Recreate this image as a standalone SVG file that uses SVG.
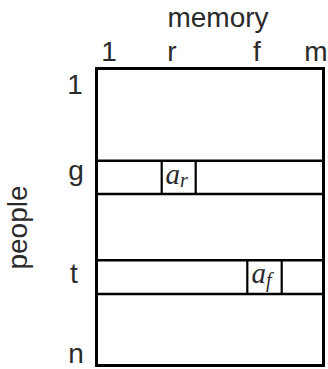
<svg xmlns="http://www.w3.org/2000/svg" width="328" height="369" viewBox="0 0 328 369">
<style>
.lbl{font-family:"Liberation Sans","Open Sans",sans-serif;font-size:28px;fill:#2a2a2a;}
.mid{text-anchor:middle;}
.math{font-family:"Liberation Serif","DejaVu Serif",serif;font-style:italic;fill:#2a2a2a;}
.outer{fill:#fff;stroke:#000;stroke-width:3;}
.hl{stroke:#000;stroke-width:2.6;fill:none;}
.vl{stroke:#000;stroke-width:2.2;fill:none;}
</style>
<rect width="328" height="369" fill="#fff"/>
<g id="axis-labels">
  <text class="lbl mid" x="218" y="27">memory</text>
  <text class="lbl mid" x="109" y="61">1</text>
  <text class="lbl mid" x="172" y="61">r</text>
  <text class="lbl mid" x="257" y="61">f</text>
  <text class="lbl mid" x="316" y="61">m</text>
  <text class="lbl mid" x="75" y="94">1</text>
  <text class="lbl mid" x="76" y="180">g</text>
  <text class="lbl mid" x="74" y="283">t</text>
  <text class="lbl mid" x="76" y="363">n</text>
  <text class="lbl mid" x="0" y="0" font-size="26.5" transform="translate(26.5,227.5) rotate(-90)">people</text>
</g>
<g id="matrix">
  <rect class="outer" x="96.5" y="68.5" width="227" height="297"/>
</g>
<g id="row-g">
  <line class="hl" x1="96.5" y1="160.7" x2="323.5" y2="160.7"/>
  <line class="hl" x1="96.5" y1="194" x2="323.5" y2="194"/>
</g>
<g id="cell-ar">
  <line class="vl" x1="161.7" y1="160.7" x2="161.7" y2="194"/>
  <line class="vl" x1="195.7" y1="160.7" x2="195.7" y2="194"/>
  <text class="math" x="165.5" y="183.5" font-size="29">a<tspan font-size="20" dy="3.5">r</tspan></text>
</g>
<g id="row-t">
  <line class="hl" x1="96.5" y1="260.3" x2="323.5" y2="260.3"/>
  <line class="hl" x1="96.5" y1="294" x2="323.5" y2="294"/>
</g>
<g id="cell-af">
  <line class="vl" x1="247.3" y1="260.3" x2="247.3" y2="294"/>
  <line class="vl" x1="281.7" y1="260.3" x2="281.7" y2="294"/>
  <text class="math" x="251.5" y="283" font-size="29">a<tspan font-size="20" dy="3.5">f</tspan></text>
</g>
<g id="connectors"></g>
</svg>
